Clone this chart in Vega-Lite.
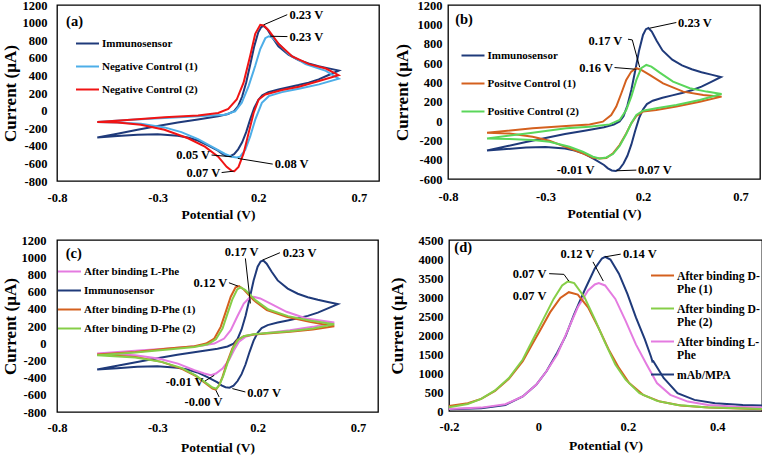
{
"$schema": "https://vega.github.io/schema/vega-lite/v6.json",
"background": "white",
"padding": {"left": 0, "top": -2, "right": 0, "bottom": 0},
"config": {
 "view": {"stroke": "#000", "strokeWidth": 1.3},
 "font": "Liberation Serif",
 "axis": {"grid": false, "ticks": false, "domain": false, "labelFont": "Liberation Serif", "labelFontWeight": "bold", "labelFontSize": 12.5, "labelColor": "#000", "titleFont": "Liberation Serif", "titleFontWeight": "bold", "titleColor": "#000", "labelFlush": false, "labelOverlap": false},
 "axisX": {"titleFontSize": 13.5, "titleBaseline": "middle"},
 "axisY": {"titleFontSize": 17, "titleBaseline": "middle", "titleAngle": 270, "titleAlign": "center"},
 "legend": {"orient": "none", "symbolType": "stroke", "symbolStrokeWidth": 2, "symbolSize": 529, "labelFont": "Liberation Serif", "labelFontWeight": "bold", "labelFontSize": 11, "labelColor": "#000", "padding": 0, "labelOffset": 2},
 "text": {"font": "Liberation Serif", "fontWeight": "bold", "fontSize": 12.5, "baseline": "middle", "color": "#000"},
 "line": {"strokeWidth": 2, "clip": true}
},
"resolve": {"scale": {"color": "independent"}, "legend": {"color": "independent"}},
"datasets": {
 "immuno": [
  {"s":"Immunosensor","o":1,"v":-0.6,"i":-305},{"s":"Immunosensor","o":2,"v":-0.5,"i":-262},{"s":"Immunosensor","o":3,"v":-0.4,"i":-218},{"s":"Immunosensor","o":4,"v":-0.3,"i":-175},{"s":"Immunosensor","o":5,"v":-0.2,"i":-135},{"s":"Immunosensor","o":6,"v":-0.1,"i":-100},{"s":"Immunosensor","o":7,"v":0.0,"i":-65},{"s":"Immunosensor","o":8,"v":0.05,"i":-38},{"s":"Immunosensor","o":9,"v":0.08,"i":-5},{"s":"Immunosensor","o":10,"v":0.1,"i":50},{"s":"Immunosensor","o":11,"v":0.12,"i":160},{"s":"Immunosensor","o":12,"v":0.14,"i":320},{"s":"Immunosensor","o":13,"v":0.16,"i":520},{"s":"Immunosensor","o":14,"v":0.18,"i":730},{"s":"Immunosensor","o":15,"v":0.2,"i":890},{"s":"Immunosensor","o":16,"v":0.215,"i":950},{"s":"Immunosensor","o":17,"v":0.228,"i":962},{"s":"Immunosensor","o":18,"v":0.245,"i":925},{"s":"Immunosensor","o":19,"v":0.27,"i":830},{"s":"Immunosensor","o":20,"v":0.3,"i":730},{"s":"Immunosensor","o":21,"v":0.35,"i":635},{"s":"Immunosensor","o":22,"v":0.4,"i":575},{"s":"Immunosensor","o":23,"v":0.45,"i":535},{"s":"Immunosensor","o":24,"v":0.5,"i":505},{"s":"Immunosensor","o":25,"v":0.55,"i":480},{"s":"Immunosensor","o":26,"v":0.6,"i":455},{"s":"Immunosensor","o":27,"v":0.55,"i":405},{"s":"Immunosensor","o":28,"v":0.5,"i":355},{"s":"Immunosensor","o":29,"v":0.45,"i":318},{"s":"Immunosensor","o":30,"v":0.4,"i":290},{"s":"Immunosensor","o":31,"v":0.35,"i":265},{"s":"Immunosensor","o":32,"v":0.3,"i":240},{"s":"Immunosensor","o":33,"v":0.25,"i":210},{"s":"Immunosensor","o":34,"v":0.22,"i":175},{"s":"Immunosensor","o":35,"v":0.2,"i":120},{"s":"Immunosensor","o":36,"v":0.18,"i":30},{"s":"Immunosensor","o":37,"v":0.16,"i":-100},{"s":"Immunosensor","o":38,"v":0.14,"i":-245},{"s":"Immunosensor","o":39,"v":0.12,"i":-360},{"s":"Immunosensor","o":40,"v":0.1,"i":-440},{"s":"Immunosensor","o":41,"v":0.08,"i":-495},{"s":"Immunosensor","o":42,"v":0.06,"i":-518},{"s":"Immunosensor","o":43,"v":0.04,"i":-512},{"s":"Immunosensor","o":44,"v":0.02,"i":-490},{"s":"Immunosensor","o":45,"v":0.0,"i":-455},{"s":"Immunosensor","o":46,"v":-0.05,"i":-395},{"s":"Immunosensor","o":47,"v":-0.1,"i":-340},{"s":"Immunosensor","o":48,"v":-0.15,"i":-305},{"s":"Immunosensor","o":49,"v":-0.2,"i":-285},{"s":"Immunosensor","o":50,"v":-0.3,"i":-268},{"s":"Immunosensor","o":51,"v":-0.4,"i":-275},{"s":"Immunosensor","o":52,"v":-0.5,"i":-290},{"s":"Immunosensor","o":53,"v":-0.6,"i":-305}
 ],
 "a_lines": [
  {"s":"Negative Control (1)","o":1,"v":-0.6,"i":-130},{"s":"Negative Control (1)","o":2,"v":-0.433,"i":-103},{"s":"Negative Control (1)","o":3,"v":-0.266,"i":-84},{"s":"Negative Control (1)","o":4,"v":-0.099,"i":-65},{"s":"Negative Control (1)","o":5,"v":0.035,"i":-46},{"s":"Negative Control (1)","o":6,"v":0.085,"i":-8},{"s":"Negative Control (1)","o":7,"v":0.118,"i":88},{"s":"Negative Control (1)","o":8,"v":0.152,"i":279},{"s":"Negative Control (1)","o":9,"v":0.185,"i":509},{"s":"Negative Control (1)","o":10,"v":0.21,"i":700},{"s":"Negative Control (1)","o":11,"v":0.235,"i":822},{"s":"Negative Control (1)","o":12,"v":0.252,"i":845},{"s":"Negative Control (1)","o":13,"v":0.268,"i":834},{"s":"Negative Control (1)","o":14,"v":0.302,"i":757},{"s":"Negative Control (1)","o":15,"v":0.352,"i":642},{"s":"Negative Control (1)","o":16,"v":0.435,"i":528},{"s":"Negative Control (1)","o":17,"v":0.536,"i":451},{"s":"Negative Control (1)","o":18,"v":0.6,"i":363},{"s":"Negative Control (1)","o":19,"v":0.502,"i":298},{"s":"Negative Control (1)","o":20,"v":0.402,"i":249},{"s":"Negative Control (1)","o":21,"v":0.318,"i":210},{"s":"Negative Control (1)","o":22,"v":0.252,"i":164},{"s":"Negative Control (1)","o":23,"v":0.218,"i":88},{"s":"Negative Control (1)","o":24,"v":0.185,"i":-103},{"s":"Negative Control (1)","o":25,"v":0.16,"i":-294},{"s":"Negative Control (1)","o":26,"v":0.135,"i":-447},{"s":"Negative Control (1)","o":27,"v":0.11,"i":-524},{"s":"Negative Control (1)","o":28,"v":0.093,"i":-532},{"s":"Negative Control (1)","o":29,"v":0.068,"i":-524},{"s":"Negative Control (1)","o":30,"v":0.035,"i":-493},{"s":"Negative Control (1)","o":31,"v":-0.015,"i":-428},{"s":"Negative Control (1)","o":32,"v":-0.099,"i":-325},{"s":"Negative Control (1)","o":33,"v":-0.182,"i":-245},{"s":"Negative Control (1)","o":34,"v":-0.266,"i":-191},{"s":"Negative Control (1)","o":35,"v":-0.383,"i":-149},{"s":"Negative Control (1)","o":36,"v":-0.5,"i":-134},{"s":"Negative Control (1)","o":37,"v":-0.6,"i":-130},
  {"s":"Negative Control (2)","o":1,"v":-0.6,"i":-130},{"s":"Negative Control (2)","o":2,"v":-0.433,"i":-103},{"s":"Negative Control (2)","o":3,"v":-0.266,"i":-76},{"s":"Negative Control (2)","o":4,"v":-0.099,"i":-57},{"s":"Negative Control (2)","o":5,"v":0.001,"i":-27},{"s":"Negative Control (2)","o":6,"v":0.051,"i":19},{"s":"Negative Control (2)","o":7,"v":0.093,"i":126},{"s":"Negative Control (2)","o":8,"v":0.127,"i":317},{"s":"Negative Control (2)","o":9,"v":0.16,"i":623},{"s":"Negative Control (2)","o":10,"v":0.185,"i":872},{"s":"Negative Control (2)","o":11,"v":0.21,"i":975},{"s":"Negative Control (2)","o":12,"v":0.227,"i":967},{"s":"Negative Control (2)","o":13,"v":0.252,"i":910},{"s":"Negative Control (2)","o":14,"v":0.302,"i":757},{"s":"Negative Control (2)","o":15,"v":0.369,"i":616},{"s":"Negative Control (2)","o":16,"v":0.452,"i":528},{"s":"Negative Control (2)","o":17,"v":0.536,"i":478},{"s":"Negative Control (2)","o":18,"v":0.599,"i":402},{"s":"Negative Control (2)","o":19,"v":0.502,"i":337},{"s":"Negative Control (2)","o":20,"v":0.402,"i":272},{"s":"Negative Control (2)","o":21,"v":0.318,"i":233},{"s":"Negative Control (2)","o":22,"v":0.235,"i":184},{"s":"Negative Control (2)","o":23,"v":0.202,"i":126},{"s":"Negative Control (2)","o":24,"v":0.177,"i":-27},{"s":"Negative Control (2)","o":25,"v":0.152,"i":-256},{"s":"Negative Control (2)","o":26,"v":0.127,"i":-486},{"s":"Negative Control (2)","o":27,"v":0.102,"i":-639},{"s":"Negative Control (2)","o":28,"v":0.081,"i":-688},{"s":"Negative Control (2)","o":29,"v":0.068,"i":-685},{"s":"Negative Control (2)","o":30,"v":0.043,"i":-639},{"s":"Negative Control (2)","o":31,"v":0.001,"i":-524},{"s":"Negative Control (2)","o":32,"v":-0.065,"i":-409},{"s":"Negative Control (2)","o":33,"v":-0.149,"i":-314},{"s":"Negative Control (2)","o":34,"v":-0.266,"i":-218},{"s":"Negative Control (2)","o":35,"v":-0.383,"i":-161},{"s":"Negative Control (2)","o":36,"v":-0.5,"i":-134},{"s":"Negative Control (2)","o":37,"v":-0.6,"i":-130}
 ],
 "b_lines": [
  {"s":"Positve Control (1)","o":1,"v":-0.6,"i":-121},{"s":"Positve Control (1)","o":2,"v":-0.366,"i":-76},{"s":"Positve Control (1)","o":3,"v":-0.194,"i":-52},{"s":"Positve Control (1)","o":4,"v":-0.074,"i":-35},{"s":"Positve Control (1)","o":5,"v":-0.006,"i":-7},{"s":"Positve Control (1)","o":6,"v":0.037,"i":62},{"s":"Positve Control (1)","o":7,"v":0.063,"i":149},{"s":"Positve Control (1)","o":8,"v":0.089,"i":287},{"s":"Positve Control (1)","o":9,"v":0.114,"i":425},{"s":"Positve Control (1)","o":10,"v":0.14,"i":511},{"s":"Positve Control (1)","o":11,"v":0.166,"i":546},{"s":"Positve Control (1)","o":12,"v":0.191,"i":528},{"s":"Positve Control (1)","o":13,"v":0.234,"i":477},{"s":"Positve Control (1)","o":14,"v":0.303,"i":390},{"s":"Positve Control (1)","o":15,"v":0.406,"i":304},{"s":"Positve Control (1)","o":16,"v":0.509,"i":269},{"s":"Positve Control (1)","o":17,"v":0.603,"i":252},{"s":"Positve Control (1)","o":18,"v":0.491,"i":200},{"s":"Positve Control (1)","o":19,"v":0.371,"i":149},{"s":"Positve Control (1)","o":20,"v":0.268,"i":114},{"s":"Positve Control (1)","o":21,"v":0.2,"i":97},{"s":"Positve Control (1)","o":22,"v":0.166,"i":52},{"s":"Positve Control (1)","o":23,"v":0.14,"i":-24},{"s":"Positve Control (1)","o":24,"v":0.114,"i":-128},{"s":"Positve Control (1)","o":25,"v":0.08,"i":-249},{"s":"Positve Control (1)","o":26,"v":0.046,"i":-335},{"s":"Positve Control (1)","o":27,"v":0.012,"i":-383},{"s":"Positve Control (1)","o":28,"v":-0.023,"i":-387},{"s":"Positve Control (1)","o":29,"v":-0.057,"i":-380},{"s":"Positve Control (1)","o":30,"v":-0.109,"i":-335},{"s":"Positve Control (1)","o":31,"v":-0.177,"i":-283},{"s":"Positve Control (1)","o":32,"v":-0.28,"i":-204},{"s":"Positve Control (1)","o":33,"v":-0.366,"i":-162},{"s":"Positve Control (1)","o":34,"v":-0.485,"i":-130},{"s":"Positve Control (1)","o":35,"v":-0.6,"i":-121},
  {"s":"Positive Control (2)","o":1,"v":-0.6,"i":-180},{"s":"Positive Control (2)","o":2,"v":-0.366,"i":-121},{"s":"Positive Control (2)","o":3,"v":-0.194,"i":-76},{"s":"Positive Control (2)","o":4,"v":-0.074,"i":-59},{"s":"Positive Control (2)","o":5,"v":0.029,"i":-35},{"s":"Positive Control (2)","o":6,"v":0.08,"i":10},{"s":"Positive Control (2)","o":7,"v":0.114,"i":114},{"s":"Positive Control (2)","o":8,"v":0.14,"i":252},{"s":"Positive Control (2)","o":9,"v":0.166,"i":425},{"s":"Positive Control (2)","o":10,"v":0.191,"i":546},{"s":"Positive Control (2)","o":11,"v":0.217,"i":580},{"s":"Positive Control (2)","o":12,"v":0.243,"i":563},{"s":"Positive Control (2)","o":13,"v":0.286,"i":501},{"s":"Positive Control (2)","o":14,"v":0.354,"i":408},{"s":"Positive Control (2)","o":15,"v":0.44,"i":339},{"s":"Positive Control (2)","o":16,"v":0.526,"i":304},{"s":"Positive Control (2)","o":17,"v":0.603,"i":280},{"s":"Positive Control (2)","o":18,"v":0.491,"i":218},{"s":"Positive Control (2)","o":19,"v":0.371,"i":166},{"s":"Positive Control (2)","o":20,"v":0.268,"i":131},{"s":"Positive Control (2)","o":21,"v":0.2,"i":107},{"s":"Positive Control (2)","o":22,"v":0.166,"i":62},{"s":"Positive Control (2)","o":23,"v":0.14,"i":-24},{"s":"Positive Control (2)","o":24,"v":0.114,"i":-135},{"s":"Positive Control (2)","o":25,"v":0.08,"i":-259},{"s":"Positive Control (2)","o":26,"v":0.046,"i":-342},{"s":"Positive Control (2)","o":27,"v":0.012,"i":-377},{"s":"Positive Control (2)","o":28,"v":-0.023,"i":-387},{"s":"Positive Control (2)","o":29,"v":-0.057,"i":-370},{"s":"Positive Control (2)","o":30,"v":-0.109,"i":-318},{"s":"Positive Control (2)","o":31,"v":-0.177,"i":-266},{"s":"Positive Control (2)","o":32,"v":-0.28,"i":-214},{"s":"Positive Control (2)","o":33,"v":-0.366,"i":-197},{"s":"Positive Control (2)","o":34,"v":-0.485,"i":-187},{"s":"Positive Control (2)","o":35,"v":-0.6,"i":-180}
 ],
 "c_lines": [
  {"s":"After binding L-Phe","o":1,"v":-0.6,"i":-120},{"s":"After binding L-Phe","o":2,"v":-0.41,"i":-89},{"s":"After binding L-Phe","o":3,"v":-0.246,"i":-62},{"s":"After binding L-Phe","o":4,"v":-0.082,"i":-31},{"s":"After binding L-Phe","o":5,"v":-0.016,"i":-4},{"s":"After binding L-Phe","o":6,"v":0.033,"i":54},{"s":"After binding L-Phe","o":7,"v":0.066,"i":151},{"s":"After binding L-Phe","o":8,"v":0.098,"i":307},{"s":"After binding L-Phe","o":9,"v":0.131,"i":462},{"s":"After binding L-Phe","o":10,"v":0.156,"i":520},{"s":"After binding L-Phe","o":11,"v":0.18,"i":540},{"s":"After binding L-Phe","o":12,"v":0.213,"i":520},{"s":"After binding L-Phe","o":13,"v":0.262,"i":462},{"s":"After binding L-Phe","o":14,"v":0.344,"i":365},{"s":"After binding L-Phe","o":15,"v":0.443,"i":287},{"s":"After binding L-Phe","o":16,"v":0.582,"i":240},{"s":"After binding L-Phe","o":17,"v":0.475,"i":190},{"s":"After binding L-Phe","o":18,"v":0.361,"i":151},{"s":"After binding L-Phe","o":19,"v":0.246,"i":120},{"s":"After binding L-Phe","o":20,"v":0.18,"i":101},{"s":"After binding L-Phe","o":21,"v":0.139,"i":74},{"s":"After binding L-Phe","o":22,"v":0.107,"i":16},{"s":"After binding L-Phe","o":23,"v":0.082,"i":-82},{"s":"After binding L-Phe","o":24,"v":0.057,"i":-198},{"s":"After binding L-Phe","o":25,"v":0.025,"i":-295},{"s":"After binding L-Phe","o":26,"v":-0.008,"i":-353},{"s":"After binding L-Phe","o":27,"v":-0.033,"i":-373},{"s":"After binding L-Phe","o":28,"v":-0.066,"i":-353},{"s":"After binding L-Phe","o":29,"v":-0.115,"i":-315},{"s":"After binding L-Phe","o":30,"v":-0.197,"i":-237},{"s":"After binding L-Phe","o":31,"v":-0.295,"i":-179},{"s":"After binding L-Phe","o":32,"v":-0.41,"i":-140},{"s":"After binding L-Phe","o":33,"v":-0.6,"i":-120},
  {"s":"After binding D-Phe (1)","o":1,"v":-0.6,"i":-132},{"s":"After binding D-Phe (1)","o":2,"v":-0.41,"i":-101},{"s":"After binding D-Phe (1)","o":3,"v":-0.246,"i":-62},{"s":"After binding D-Phe (1)","o":4,"v":-0.115,"i":-35},{"s":"After binding D-Phe (1)","o":5,"v":-0.057,"i":-4},{"s":"After binding D-Phe (1)","o":6,"v":-0.016,"i":54},{"s":"After binding D-Phe (1)","o":7,"v":0.016,"i":190},{"s":"After binding D-Phe (1)","o":8,"v":0.041,"i":365},{"s":"After binding D-Phe (1)","o":9,"v":0.066,"i":540},{"s":"After binding D-Phe (1)","o":10,"v":0.09,"i":649},{"s":"After binding D-Phe (1)","o":11,"v":0.107,"i":664},{"s":"After binding D-Phe (1)","o":12,"v":0.131,"i":625},{"s":"After binding D-Phe (1)","o":13,"v":0.18,"i":501},{"s":"After binding D-Phe (1)","o":14,"v":0.246,"i":384},{"s":"After binding D-Phe (1)","o":15,"v":0.344,"i":307},{"s":"After binding D-Phe (1)","o":16,"v":0.459,"i":248},{"s":"After binding D-Phe (1)","o":17,"v":0.582,"i":198},{"s":"After binding D-Phe (1)","o":18,"v":0.475,"i":159},{"s":"After binding D-Phe (1)","o":19,"v":0.361,"i":132},{"s":"After binding D-Phe (1)","o":20,"v":0.246,"i":113},{"s":"After binding D-Phe (1)","o":21,"v":0.18,"i":101},{"s":"After binding D-Phe (1)","o":22,"v":0.131,"i":82},{"s":"After binding D-Phe (1)","o":23,"v":0.098,"i":35},{"s":"After binding D-Phe (1)","o":24,"v":0.074,"i":-62},{"s":"After binding D-Phe (1)","o":25,"v":0.049,"i":-217},{"s":"After binding D-Phe (1)","o":26,"v":0.025,"i":-392},{"s":"After binding D-Phe (1)","o":27,"v":0.008,"i":-489},{"s":"After binding D-Phe (1)","o":28,"v":-0.008,"i":-540},{"s":"After binding D-Phe (1)","o":29,"v":-0.025,"i":-528},{"s":"After binding D-Phe (1)","o":30,"v":-0.057,"i":-470},{"s":"After binding D-Phe (1)","o":31,"v":-0.107,"i":-384},{"s":"After binding D-Phe (1)","o":32,"v":-0.18,"i":-295},{"s":"After binding D-Phe (1)","o":33,"v":-0.279,"i":-217},{"s":"After binding D-Phe (1)","o":34,"v":-0.41,"i":-159},{"s":"After binding D-Phe (1)","o":35,"v":-0.6,"i":-132},
  {"s":"After binding D-Phe (2)","o":1,"v":-0.6,"i":-140},{"s":"After binding D-Phe (2)","o":2,"v":-0.41,"i":-109},{"s":"After binding D-Phe (2)","o":3,"v":-0.246,"i":-74},{"s":"After binding D-Phe (2)","o":4,"v":-0.115,"i":-43},{"s":"After binding D-Phe (2)","o":5,"v":-0.049,"i":-12},{"s":"After binding D-Phe (2)","o":6,"v":-0.008,"i":47},{"s":"After binding D-Phe (2)","o":7,"v":0.025,"i":171},{"s":"After binding D-Phe (2)","o":8,"v":0.049,"i":338},{"s":"After binding D-Phe (2)","o":9,"v":0.074,"i":509},{"s":"After binding D-Phe (2)","o":10,"v":0.098,"i":625},{"s":"After binding D-Phe (2)","o":11,"v":0.115,"i":649},{"s":"After binding D-Phe (2)","o":12,"v":0.139,"i":617},{"s":"After binding D-Phe (2)","o":13,"v":0.189,"i":501},{"s":"After binding D-Phe (2)","o":14,"v":0.254,"i":392},{"s":"After binding D-Phe (2)","o":15,"v":0.352,"i":315},{"s":"After binding D-Phe (2)","o":16,"v":0.467,"i":260},{"s":"After binding D-Phe (2)","o":17,"v":0.582,"i":221},{"s":"After binding D-Phe (2)","o":18,"v":0.475,"i":171},{"s":"After binding D-Phe (2)","o":19,"v":0.361,"i":140},{"s":"After binding D-Phe (2)","o":20,"v":0.246,"i":120},{"s":"After binding D-Phe (2)","o":21,"v":0.18,"i":105},{"s":"After binding D-Phe (2)","o":22,"v":0.131,"i":82},{"s":"After binding D-Phe (2)","o":23,"v":0.102,"i":35},{"s":"After binding D-Phe (2)","o":24,"v":0.077,"i":-62},{"s":"After binding D-Phe (2)","o":25,"v":0.052,"i":-217},{"s":"After binding D-Phe (2)","o":26,"v":0.028,"i":-384},{"s":"After binding D-Phe (2)","o":27,"v":0.011,"i":-478},{"s":"After binding D-Phe (2)","o":28,"v":-0.005,"i":-528},{"s":"After binding D-Phe (2)","o":29,"v":-0.025,"i":-516},{"s":"After binding D-Phe (2)","o":30,"v":-0.057,"i":-462},{"s":"After binding D-Phe (2)","o":31,"v":-0.107,"i":-377},{"s":"After binding D-Phe (2)","o":32,"v":-0.18,"i":-287},{"s":"After binding D-Phe (2)","o":33,"v":-0.279,"i":-217},{"s":"After binding D-Phe (2)","o":34,"v":-0.41,"i":-167},{"s":"After binding D-Phe (2)","o":35,"v":-0.6,"i":-140}
 ],
 "d_lines": [
  {"s":"mAb/MPA","v":-0.2,"i":44},{"s":"mAb/MPA","v":-0.128,"i":71},{"s":"mAb/MPA","v":-0.074,"i":159},{"s":"mAb/MPA","v":-0.035,"i":381},{"s":"mAb/MPA","v":-0.005,"i":691},{"s":"mAb/MPA","v":0.018,"i":1045},{"s":"mAb/MPA","v":0.042,"i":1532},{"s":"mAb/MPA","v":0.061,"i":1975},{"s":"mAb/MPA","v":0.08,"i":2551},{"s":"mAb/MPA","v":0.103,"i":3171},{"s":"mAb/MPA","v":0.126,"i":3747},{"s":"mAb/MPA","v":0.142,"i":4012},{"s":"mAb/MPA","v":0.149,"i":4057},{"s":"mAb/MPA","v":0.161,"i":3986},{"s":"mAb/MPA","v":0.18,"i":3614},{"s":"mAb/MPA","v":0.199,"i":3082},{"s":"mAb/MPA","v":0.218,"i":2462},{"s":"mAb/MPA","v":0.238,"i":1887},{"s":"mAb/MPA","v":0.252,"i":1420},{"s":"mAb/MPA","v":0.255,"i":1300},{"s":"mAb/MPA","v":0.257,"i":1311},{"s":"mAb/MPA","v":0.28,"i":868},{"s":"mAb/MPA","v":0.311,"i":469},{"s":"mAb/MPA","v":0.349,"i":292},{"s":"mAb/MPA","v":0.395,"i":204},{"s":"mAb/MPA","v":0.457,"i":159},{"s":"mAb/MPA","v":0.5,"i":145},
  {"s":"After binding L-Phe","v":-0.2,"i":53},{"s":"After binding L-Phe","v":-0.128,"i":89},{"s":"After binding L-Phe","v":-0.074,"i":177},{"s":"After binding L-Phe","v":-0.035,"i":381},{"s":"After binding L-Phe","v":-0.005,"i":691},{"s":"After binding L-Phe","v":0.018,"i":1045},{"s":"After binding L-Phe","v":0.042,"i":1488},{"s":"After binding L-Phe","v":0.065,"i":2108},{"s":"After binding L-Phe","v":0.088,"i":2728},{"s":"After binding L-Phe","v":0.111,"i":3171},{"s":"After binding L-Phe","v":0.126,"i":3330},{"s":"After binding L-Phe","v":0.135,"i":3366},{"s":"After binding L-Phe","v":0.149,"i":3304},{"s":"After binding L-Phe","v":0.172,"i":2950},{"s":"After binding L-Phe","v":0.195,"i":2374},{"s":"After binding L-Phe","v":0.218,"i":1754},{"s":"After binding L-Phe","v":0.242,"i":1222},{"s":"After binding L-Phe","v":0.265,"i":735},{"s":"After binding L-Phe","v":0.295,"i":425},{"s":"After binding L-Phe","v":0.334,"i":248},{"s":"After binding L-Phe","v":0.38,"i":159},{"s":"After binding L-Phe","v":0.442,"i":115},{"s":"After binding L-Phe","v":0.5,"i":92},
  {"s":"After binding D-Phe (1)","v":-0.2,"i":133},{"s":"After binding D-Phe (1)","v":-0.158,"i":204},{"s":"After binding D-Phe (1)","v":-0.128,"i":319},{"s":"After binding D-Phe (1)","v":-0.097,"i":531},{"s":"After binding D-Phe (1)","v":-0.066,"i":850},{"s":"After binding D-Phe (1)","v":-0.035,"i":1311},{"s":"After binding D-Phe (1)","v":-0.012,"i":1798},{"s":"After binding D-Phe (1)","v":0.003,"i":2108},{"s":"After binding D-Phe (1)","v":0.026,"i":2595},{"s":"After binding D-Phe (1)","v":0.049,"i":2976},{"s":"After binding D-Phe (1)","v":0.068,"i":3127},{"s":"After binding D-Phe (1)","v":0.088,"i":3065},{"s":"After binding D-Phe (1)","v":0.111,"i":2728},{"s":"After binding D-Phe (1)","v":0.134,"i":2197},{"s":"After binding D-Phe (1)","v":0.157,"i":1621},{"s":"After binding D-Phe (1)","v":0.18,"i":1134},{"s":"After binding D-Phe (1)","v":0.203,"i":735},{"s":"After binding D-Phe (1)","v":0.234,"i":425},{"s":"After binding D-Phe (1)","v":0.272,"i":248},{"s":"After binding D-Phe (1)","v":0.318,"i":142},{"s":"After binding D-Phe (1)","v":0.38,"i":89},{"s":"After binding D-Phe (1)","v":0.5,"i":44},
  {"s":"After binding D-Phe (2)","v":-0.2,"i":97},{"s":"After binding D-Phe (2)","v":-0.158,"i":186},{"s":"After binding D-Phe (2)","v":-0.128,"i":319},{"s":"After binding D-Phe (2)","v":-0.097,"i":540},{"s":"After binding D-Phe (2)","v":-0.066,"i":868},{"s":"After binding D-Phe (2)","v":-0.035,"i":1355},{"s":"After binding D-Phe (2)","v":-0.012,"i":1887},{"s":"After binding D-Phe (2)","v":0.011,"i":2418},{"s":"After binding D-Phe (2)","v":0.034,"i":2950},{"s":"After binding D-Phe (2)","v":0.053,"i":3304},{"s":"After binding D-Phe (2)","v":0.066,"i":3410},{"s":"After binding D-Phe (2)","v":0.08,"i":3366},{"s":"After binding D-Phe (2)","v":0.103,"i":2994},{"s":"After binding D-Phe (2)","v":0.126,"i":2418},{"s":"After binding D-Phe (2)","v":0.149,"i":1798},{"s":"After binding D-Phe (2)","v":0.172,"i":1222},{"s":"After binding D-Phe (2)","v":0.195,"i":824},{"s":"After binding D-Phe (2)","v":0.226,"i":469},{"s":"After binding D-Phe (2)","v":0.265,"i":266},{"s":"After binding D-Phe (2)","v":0.311,"i":159},{"s":"After binding D-Phe (2)","v":0.372,"i":97},{"s":"After binding D-Phe (2)","v":0.5,"i":53}
 ]
},
"spacing": 11,
"vconcat": [
 {"spacing": 12, "resolve": {"scale": {"color": "independent"}, "legend": {"color": "independent"}}, "hconcat": [
  {"width": 322, "height": 176, "layer": [
   {"data": {"name": "immuno"}, "mark": "line", "encoding": {
     "x": {"field": "v", "type": "quantitative", "scale": {"domain": [-0.8, 0.8], "nice": false}, "axis": {"values": [-0.8, -0.3, 0.2, 0.7], "tickCount": 20, "format": ".1f", "labelExpr": "replace(datum.label, '\u2212', '-')", "labelOverlap": false, "labelPadding": 10, "title": "Potential (V)", "titleX": 161, "titleY": 33}},
     "y": {"field": "i", "type": "quantitative", "scale": {"domain": [-800, 1200], "nice": false}, "axis": {"values": [-800,-600,-400,-200,0,200,400,600,800,1000,1200], "tickCount": 20, "format": "d", "labelExpr": "replace(datum.label, '\u2212', '-')", "labelOverlap": false, "labelPadding": 10, "title": "Current (µA)", "titleX": -46.7, "titleY": 88}},
     "color": {"field": "s", "type": "nominal", "scale": {"domain": ["Immunosensor", "Negative Control (1)", "Negative Control (2)"], "range": ["#1F3A7A", "#4DAEE8", "#F01414"]}, "legend": {"title": null, "orient": "none", "legendX": 18, "legendY": 26, "rowPadding": 5}},
     "order": {"field": "o", "type": "quantitative"}}},
   {"data": {"name": "a_lines"}, "mark": "line", "encoding": {"x": {"field": "v", "type": "quantitative"}, "y": {"field": "i", "type": "quantitative"}, "color": {"field": "s", "type": "nominal"}, "order": {"field": "o", "type": "quantitative"}}},
   {"data": {"values": [{"v":0.227,"i":975,"v2":0.344,"i2":1090},{"v":0.26,"i":845,"v2":0.345,"i2":841},{"v":-0.032,"i":-505,"v2":0.068,"i2":-524},{"v":0.098,"i":-543,"v2":0.272,"i2":-608},{"v":0.018,"i":-704,"v2":0.078,"i2":-688}]}, "mark": {"type": "rule", "stroke": "#000", "strokeWidth": 1}, "encoding": {"x": {"field": "v", "type": "quantitative"}, "y": {"field": "i", "type": "quantitative"}, "x2": {"field": "v2"}, "y2": {"field": "i2"}}},
   {"data": {"values": [{"t":"0.23 V","v":0.355,"i":1082},{"t":"0.23 V","v":0.355,"i":841},{"t":"0.08 V","v":0.282,"i":-612}]}, "mark": {"type": "text", "align": "left"}, "encoding": {"x": {"field": "v", "type": "quantitative"}, "y": {"field": "i", "type": "quantitative"}, "text": {"field": "t", "type": "nominal"}}},
   {"data": {"values": [{"t":"0.05 V","v":-0.039,"i":-509},{"t":"0.07 V","v":0.011,"i":-704}]}, "mark": {"type": "text", "align": "right"}, "encoding": {"x": {"field": "v", "type": "quantitative"}, "y": {"field": "i", "type": "quantitative"}, "text": {"field": "t", "type": "nominal"}}},
   {"data": {"values": [{"t":"(a)","v":-0.755,"i":1006}]}, "mark": {"type": "text", "align": "left", "fontSize": 14.5}, "encoding": {"x": {"field": "v", "type": "quantitative"}, "y": {"field": "i", "type": "quantitative"}, "text": {"field": "t", "type": "nominal"}}}
  ]},
  {"width": 312, "height": 174, "layer": [
   {"data": {"name": "immuno"}, "mark": "line", "encoding": {
     "x": {"field": "v", "type": "quantitative", "scale": {"domain": [-0.8, 0.8], "nice": false}, "axis": {"values": [-0.8, -0.3, 0.2, 0.7], "tickCount": 20, "format": ".1f", "labelExpr": "replace(datum.label, '\u2212', '-')", "labelOverlap": false, "labelPadding": 11, "title": "Potential (V)", "titleX": 156, "titleY": 34.7}},
     "y": {"field": "i", "type": "quantitative", "scale": {"domain": [-600, 1200], "nice": false}, "axis": {"values": [-600,-400,-200,0,200,400,600,800,1000,1200], "tickCount": 20, "format": "d", "labelExpr": "replace(datum.label, '\u2212', '-')", "labelOverlap": false, "labelPadding": 6, "title": "Current (µA)", "titleX": -45.5, "titleY": 87}},
     "color": {"field": "s", "type": "nominal", "scale": {"domain": ["Immunosensor", "Positve Control (1)", "Positive Control (2)"], "range": ["#1F3A7A", "#D4601E", "#5AD65A"]}, "legend": {"title": null, "orient": "none", "legendX": 12.5, "legendY": 38, "rowPadding": 10}},
     "order": {"field": "o", "type": "quantitative"}}},
   {"data": {"name": "b_lines"}, "mark": "line", "encoding": {"x": {"field": "v", "type": "quantitative"}, "y": {"field": "i", "type": "quantitative"}, "color": {"field": "s", "type": "nominal"}, "order": {"field": "o", "type": "quantitative"}}},
   {"data": {"values": [{"v":0.234,"i":960,"v2":0.371,"i2":1019},{"v":0.123,"i":846,"v2":0.145,"i2":839},{"v":0.145,"i":839,"v2":0.183,"i2":556},{"v":0.054,"i":553,"v2":0.166,"i2":535},{"v":0.063,"i":-515,"v2":0.166,"i2":-508}]}, "mark": {"type": "rule", "stroke": "#000", "strokeWidth": 1}, "encoding": {"x": {"field": "v", "type": "quantitative"}, "y": {"field": "i", "type": "quantitative"}, "x2": {"field": "v2"}, "y2": {"field": "i2"}}},
   {"data": {"values": [{"t":"0.23 V","v":0.38,"i":1012},{"t":"0.07 V","v":0.174,"i":-508}]}, "mark": {"type": "text", "align": "left"}, "encoding": {"x": {"field": "v", "type": "quantitative"}, "y": {"field": "i", "type": "quantitative"}, "text": {"field": "t", "type": "nominal"}}},
   {"data": {"values": [{"t":"0.17 V","v":0.094,"i":832},{"t":"0.16 V","v":0.046,"i":546},{"t":"-0.01 V","v":-0.048,"i":-508}]}, "mark": {"type": "text", "align": "right"}, "encoding": {"x": {"field": "v", "type": "quantitative"}, "y": {"field": "i", "type": "quantitative"}, "text": {"field": "t", "type": "nominal"}}},
   {"data": {"values": [{"t":"(b)","v":-0.763,"i":1040}]}, "mark": {"type": "text", "align": "left", "fontSize": 14.5}, "encoding": {"x": {"field": "v", "type": "quantitative"}, "y": {"field": "i", "type": "quantitative"}, "text": {"field": "t", "type": "nominal"}}}
  ]}
 ]},
 {"spacing": 8, "resolve": {"scale": {"color": "independent"}, "legend": {"color": "independent"}}, "hconcat": [
  {"width": 321, "height": 172, "layer": [
   {"data": {"name": "immuno"}, "mark": "line", "encoding": {
     "x": {"field": "v", "type": "quantitative", "scale": {"domain": [-0.8, 0.8], "nice": false}, "axis": {"values": [-0.8, -0.3, 0.2, 0.7], "tickCount": 20, "format": ".1f", "labelExpr": "replace(datum.label, '\u2212', '-')", "labelOverlap": false, "labelPadding": 9, "title": "Potential (V)", "titleX": 160.5, "titleY": 35}},
     "y": {"field": "i", "type": "quantitative", "scale": {"domain": [-800, 1200], "nice": false}, "axis": {"values": [-800,-600,-400,-200,0,200,400,600,800,1000,1200], "tickCount": 20, "format": "d", "labelExpr": "replace(datum.label, '\u2212', '-')", "labelOverlap": false, "labelPadding": 11, "title": "Current (µA)", "titleX": -46.7, "titleY": 86}},
     "color": {"field": "s", "type": "nominal", "scale": {"domain": ["After binding L-Phe", "Immunosensor", "After binding D-Phe (1)", "After binding D-Phe (2)"], "range": ["#E47BE0", "#1F3A7A", "#D4601E", "#86CE48"]}, "legend": {"title": null, "orient": "none", "legendX": 0, "legendY": 19, "rowPadding": 1}},
     "order": {"field": "o", "type": "quantitative"}}},
   {"data": {"name": "c_lines"}, "mark": "line", "encoding": {"x": {"field": "v", "type": "quantitative"}, "y": {"field": "i", "type": "quantitative"}, "color": {"field": "s", "type": "nominal"}, "order": {"field": "o", "type": "quantitative"}}},
   {"data": {"values": [{"v":0.225,"i":967,"v2":0.311,"i2":1052},{"v":0.139,"i":986,"v2":0.164,"i2":462},{"v":0.057,"i":703,"v2":0.102,"i2":664},{"v":-0.062,"i":-439,"v2":-0.016,"i2":-373},{"v":-0.008,"i":-548,"v2":0.008,"i2":-625},{"v":0.074,"i":-528,"v2":0.139,"i2":-567}]}, "mark": {"type": "rule", "stroke": "#000", "strokeWidth": 1}, "encoding": {"x": {"field": "v", "type": "quantitative"}, "y": {"field": "i", "type": "quantitative"}, "x2": {"field": "v2"}, "y2": {"field": "i2"}}},
   {"data": {"values": [{"t":"0.23 V","v":0.325,"i":1045},{"t":"0.07 V","v":0.148,"i":-575}]}, "mark": {"type": "text", "align": "left"}, "encoding": {"x": {"field": "v", "type": "quantitative"}, "y": {"field": "i", "type": "quantitative"}, "text": {"field": "t", "type": "nominal"}}},
   {"data": {"values": [{"t":"0.17 V","v":0.205,"i":1056},{"t":"0.12 V","v":0.049,"i":695},{"t":"-0.01 V","v":-0.069,"i":-450},{"t":"-0.00 V","v":0.025,"i":-683}]}, "mark": {"type": "text", "align": "right"}, "encoding": {"x": {"field": "v", "type": "quantitative"}, "y": {"field": "i", "type": "quantitative"}, "text": {"field": "t", "type": "nominal"}}},
   {"data": {"values": [{"t":"(c)","v":-0.757,"i":1037}]}, "mark": {"type": "text", "align": "left", "fontSize": 14.5}, "encoding": {"x": {"field": "v", "type": "quantitative"}, "y": {"field": "i", "type": "quantitative"}, "text": {"field": "t", "type": "nominal"}}}
  ]},
  {"width": 313, "height": 171, "layer": [
   {"data": {"name": "d_lines"}, "mark": "line", "encoding": {
     "x": {"field": "v", "type": "quantitative", "scale": {"domain": [-0.2, 0.5], "nice": false}, "axis": {"values": [-0.2, 0, 0.2, 0.4], "tickCount": 20, "format": ".1~f", "labelExpr": "replace(datum.label, '\u2212', '-')", "labelOverlap": false, "labelPadding": 9.5, "title": "Potential (V)", "titleX": 156.5, "titleY": 34}},
     "y": {"field": "i", "type": "quantitative", "scale": {"domain": [0, 4500], "nice": false}, "axis": {"values": [0,500,1000,1500,2000,2500,3000,3500,4000,4500], "tickCount": 20, "format": "d", "labelOverlap": false, "labelPadding": 6, "title": "Current (µA)", "titleX": -52, "titleY": 85.5}},
     "color": {"field": "s", "type": "nominal", "scale": {"domain": ["After binding D-Phe (1)", "After binding D-Phe (2)", "After binding L-Phe", "mAb/MPA"], "range": ["#D4601E", "#86CE48", "#E47BE0", "#1F3A7A"]}, "legend": {"title": null, "orient": "none", "legendX": 201, "legendY": 23, "rowPadding": -7, "labelFontSize": 11.7, "labelBaseline": "middle", "labelExpr": "datum.label == 'After binding D-Phe (1)' ? ['After binding D-', 'Phe (1)'] : datum.label == 'After binding D-Phe (2)' ? ['After binding D-', 'Phe (2)'] : datum.label == 'After binding L-Phe' ? ['After binding L-', 'Phe'] : datum.label"}}}},
   {"data": {"values": [{"v":0.149,"i":4057,"v2":0.184,"i2":4128},{"v":0.122,"i":3924,"v2":0.145,"i2":3419},{"v":0.024,"i":3614,"v2":0.057,"i2":3596},{"v":0.057,"i":3596,"v2":0.068,"i2":3419}]}, "mark": {"type": "rule", "stroke": "#000", "strokeWidth": 1}, "encoding": {"x": {"field": "v", "type": "quantitative"}, "y": {"field": "i", "type": "quantitative"}, "x2": {"field": "v2"}, "y2": {"field": "i2"}}},
   {"data": {"values": [{"t":"0.14 V","v":0.189,"i":4119}]}, "mark": {"type": "text", "align": "left"}, "encoding": {"x": {"field": "v", "type": "quantitative"}, "y": {"field": "i", "type": "quantitative"}, "text": {"field": "t", "type": "nominal"}}},
   {"data": {"values": [{"t":"0.12 V","v":0.125,"i":4119},{"t":"0.07 V","v":0.018,"i":3596},{"t":"0.07 V","v":0.018,"i":3038}]}, "mark": {"type": "text", "align": "right"}, "encoding": {"x": {"field": "v", "type": "quantitative"}, "y": {"field": "i", "type": "quantitative"}, "text": {"field": "t", "type": "nominal"}}},
   {"data": {"values": [{"t":"(d)","v":-0.188,"i":4278}]}, "mark": {"type": "text", "align": "left", "fontSize": 14.5}, "encoding": {"x": {"field": "v", "type": "quantitative"}, "y": {"field": "i", "type": "quantitative"}, "text": {"field": "t", "type": "nominal"}}}
  ]}
 ]}
]
}
